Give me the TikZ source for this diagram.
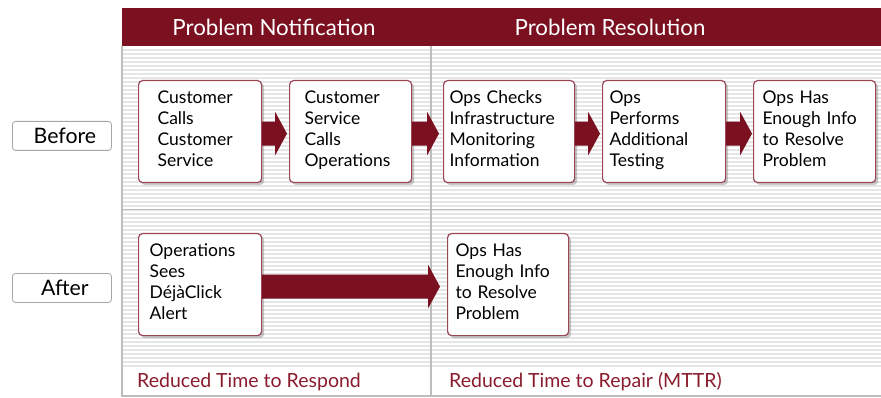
\documentclass[tikz,border=0pt]{standalone}
\usepackage{fontspec}
\setmainfont{Lato}
\usetikzlibrary{calc,shadows}

\definecolor{wine}{HTML}{7A1020}
\definecolor{boxedge}{HTML}{9A4654}
\definecolor{stripe}{HTML}{E6E6E6}
\definecolor{rule}{HTML}{BDBDBD}
\definecolor{labeltext}{HTML}{8A1C2E}

\tikzset{
  stepbox/.style n args={2}{
    draw=boxedge, line width=1.2pt, fill=white, rounded corners=4pt,
    drop shadow={shadow xshift=2.5pt, shadow yshift=-2.5pt, opacity=0.35, fill=black!60},
    minimum width=#1, text width=#1-2*#2, inner xsep=#2, inner ysep=0pt,
    minimum height=102pt, text height=23.3pt, text depth=78.7pt,
    align=left, font=\fontsize{17.5}{20.8}\selectfont, anchor=north west
  },
  rowlabel/.style={
    draw=black!35, line width=0.8pt, fill=white, rounded corners=3pt,
    minimum width=99pt, minimum height=29pt, inner sep=0pt,
    font=\fontsize{21.3}{24}\selectfont, anchor=north west
  },
  headtext/.style={text=white, font=\fontsize{22.3}{25}\selectfont, inner sep=0pt},
  foottext/.style={text=labeltext, font=\fontsize{19.5}{22}\selectfont, inner sep=0pt, anchor=west}
}

% block arrow between the facing sides of two boxes
\newcommand\blockarrow[3]{%
  \fill[wine] let \p1=(#1.east), \p2=(#2.west) in
    (\x1,\y1+10pt) -- (\x2-#3-12pt,\y1+10pt) -- (\x2-#3-12pt,\y1+20pt) --
    (\x2-#3,\y1-2pt) -- (\x2-#3-12pt,\y1-24pt) -- (\x2-#3-12pt,\y1-14pt) --
    (\x1,\y1-14pt) -- cycle;}

\begin{document}
\begin{tikzpicture}[x=1pt,y=-1pt]
  \useasboundingbox (0,0) rectangle (881,398);

  % striped panel background
  \fill[white] (122,46) rectangle (881,396);
  \foreach \s in {49,53,...,365}
    \fill[stripe] (122,\s) rectangle (881,\s+2);

  % header bar
  \fill[wine] (122,8) rectangle (881,46);
  \node[headtext] (hnote) at (274,27) {Problem Notification};
  \node[headtext] (hres) at (610,27) {Problem Resolution};

  % panel rules
  \draw[rule, line width=1.5pt] (122,46) -- (122,396) -- (881,396);
  \draw[rule, line width=1.5pt] (431,46) -- (431,396);
  \draw[rule, line width=1.5pt] (122,209.5) -- (881,209.5);

  % row labels
  \node[rowlabel] (before) at (12,121) {\hspace{6pt}Before};
  \node[rowlabel] (after) at (12,273) {\hspace{6pt}After};

  % before: steps
  \node[stepbox={123pt}{19pt}] (c1) at (138,80) {Customer\\Calls\\Customer\\Service};
  \node[stepbox={122pt}{15pt}] (c2) at (289,80) {Customer\\Service\\Calls\\Operations};
  \node[stepbox={131pt}{6pt}]  (c3) at (443,80) {Ops Checks\\Infrastructure\\Monitoring\\Information};
  \node[stepbox={123pt}{7pt}]  (c4) at (602,80) {Ops\\Performs\\Additional\\Testing};
  \node[stepbox={122pt}{9pt}]  (c5) at (753,80) {Ops Has\\Enough Info\\to Resolve\\Problem};

  % after: steps
  \node[stepbox={123pt}{11pt}] (d1) at (138,233) {Operations\\Sees\\DéjàClick\\Alert};
  \node[stepbox={121pt}{8pt}]  (d2) at (447,233) {Ops Has\\Enough Info\\to Resolve\\Problem};

  % connectors
  \blockarrow{c1}{c2}{2pt}
  \blockarrow{c2}{c3}{4pt}
  \blockarrow{c3}{c4}{2pt}
  \blockarrow{c4}{c5}{1pt}
  \blockarrow{d1}{d2}{7pt}

  % footer captions
  \node[foottext] (respond) at (137,382) {Reduced Time to Respond};
  \node[foottext] (repair) at (449,382) {Reduced Time to Repair (MTTR)};
\end{tikzpicture}
\end{document}
